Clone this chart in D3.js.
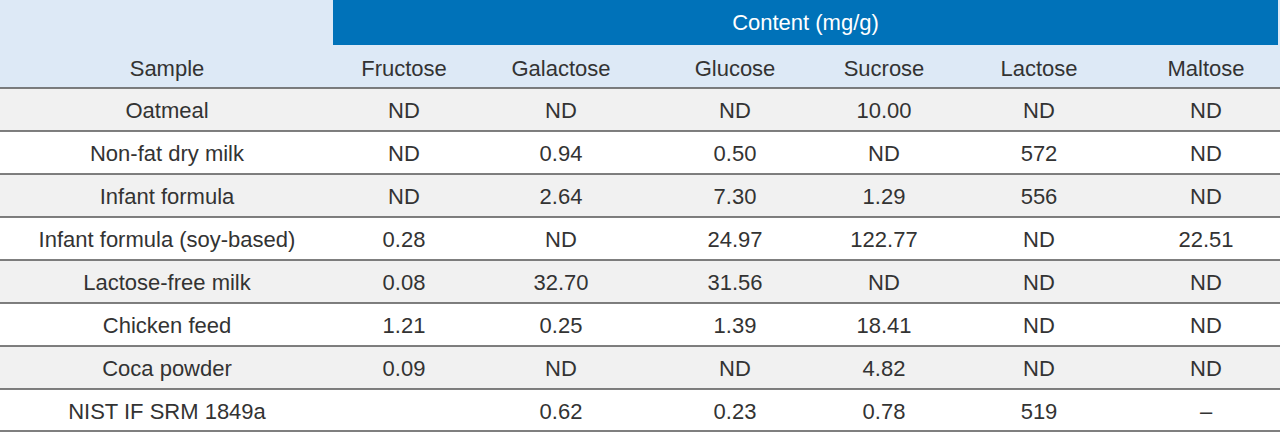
<!DOCTYPE html><html><head><meta charset="utf-8">
<script src="https://cdn.jsdelivr.net/npm/d3@7"></script>
<style>body{margin:0;background:#fff}</style></head><body><svg id="c" width="1280" height="432"></svg>
<script>
const columns = ["Sample","Fructose","Galactose","Glucose","Sucrose","Lactose","Maltose"];
const samples = ["Oatmeal","Non-fat dry milk","Infant formula","Infant formula (soy-based)","Lactose-free milk","Chicken feed","Coca powder","NIST IF SRM 1849a"];
const fructose = ["ND","ND","ND","0.28","0.08","1.21","0.09",""];
const galactose = ["ND","0.94","2.64","ND","32.70","0.25","ND","0.62"];
const glucose = ["ND","0.50","7.30","24.97","31.56","1.39","ND","0.23"];
const sucrose = ["10.00","ND","1.29","122.77","ND","18.41","4.82","0.78"];
const lactose = ["ND","572","556","ND","ND","ND","ND","519"];
const maltose = ["ND","ND","ND","22.51","ND","ND","ND","–"];
const groupTitle = "Content (mg/g)";

const svg = d3.select("#c");
const font = "Liberation Sans, Arial, sans-serif";
const centers = [167,404,561,735,884,1039,1206];
const edges = [0,333,480,645,820,950,1120,1280];
const y = d3.scaleBand().domain(d3.range(samples.length)).range([88,432]);
svg.append("rect").attr("x",0).attr("y",0).attr("width",1280).attr("height",88).attr("fill","#dde9f6");
svg.append("rect").attr("x",333).attr("y",0).attr("width",945).attr("height",45).attr("fill","#0072b9");
svg.append("text").attr("x",(333+1278)/2).attr("y",30).attr("text-anchor","middle")
  .attr("font-family",font).attr("font-size",22).attr("fill","#fff").text(groupTitle);
columns.forEach((c,i)=>svg.append("text").attr("x",centers[i]).attr("y",76).attr("text-anchor","middle")
  .attr("font-family",font).attr("font-size",22).attr("fill","#333").text(c));
const rows = samples.map((s,i)=>[s,fructose[i],galactose[i],glucose[i],sucrose[i],lactose[i],maltose[i]]);
const g = svg.selectAll("g.row").data(rows).join("g").attr("transform",(d,i)=>`translate(0,${y(i)})`);
g.append("rect").attr("width",1280).attr("height",y.bandwidth()).attr("fill",(d,i)=>i%2===0?"#f1f1f1":"#fff");
g.selectAll("text").data(d=>d).join("text").attr("x",(d,j)=>centers[j]).attr("y",y.bandwidth()/2+8)
  .attr("text-anchor","middle").attr("font-family",font).attr("font-size",22).attr("fill","#333").text(d=>d);
d3.range(samples.length+1).forEach(i=>{
  const yy = i<samples.length ? y(i) : 431;
  svg.append("line").attr("x1",0).attr("x2",1280).attr("y1",yy).attr("y2",yy).attr("stroke","#555").attr("stroke-width",1.5);
});
</script></body></html>
